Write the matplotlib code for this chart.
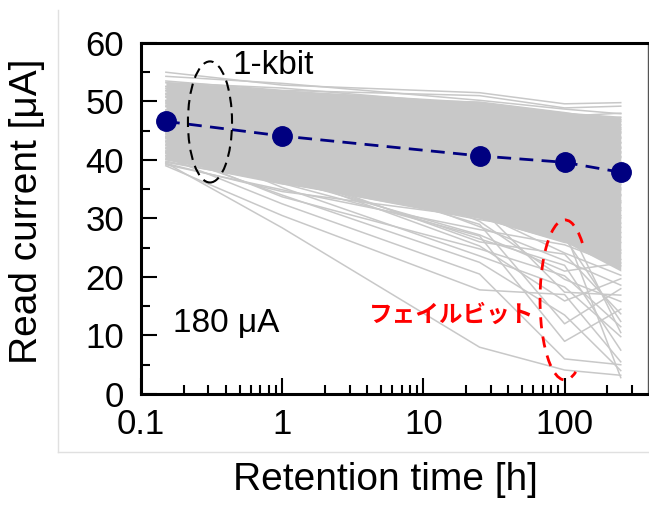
import numpy as np
import matplotlib
matplotlib.use('Agg')
import matplotlib.pyplot as plt
from matplotlib.patches import Ellipse, Arc
from matplotlib.lines import Line2D
from matplotlib.ticker import MultipleLocator, LogLocator, NullFormatter

plt.rcParams['font.family'] = ['Liberation Sans', 'DejaVu Sans']

# retention times where each bit was read [h]
times = [0.15, 1, 25, 100, 250]

# average read current [uA]
avg_current = [46.6, 44.1, 40.7, 39.6, 37.9]

# individual bit read currents [uA], one list per retention time
i_015h = [55.0, 54.3, 53.5, 53.2, 52.6, 52.5, 51.9, 51.8, 51.2, 50.9,
          50.7, 50.2, 49.9, 49.7, 49.2, 49.1, 48.6, 48.5, 48.0, 47.9,
          47.4, 47.1, 47.0, 46.5, 46.4, 45.9, 45.8, 45.3, 45.2, 44.7,
          44.6, 44.1, 43.8, 43.7, 43.2, 43.1, 42.6, 42.5, 42.0, 41.9,
          41.4, 41.3, 40.8, 40.7, 40.2, 40.1, 39.8, 39.6, 39.4, 39.2,
          44.4, 47.3, 42.9, 50.1, 45.6, 48.3, 41.6, 46.7, 52.2, 43.4,
          39.0, 39.5, 40.5, 41.1, 42.2, 44.0, 45.0, 47.6, 49.4, 51.4]
i_1h = [52.8, 53.1, 51.9, 52.3, 50.8, 51.5, 50.2, 50.9, 49.6, 50.3,
        48.7, 49.2, 48.1, 48.8, 47.4, 47.9, 46.8, 47.2, 46.1, 46.6,
        45.5, 46.0, 44.9, 45.4, 44.2, 44.8, 43.6, 44.1, 42.9, 43.5,
        42.3, 42.8, 41.6, 42.1, 40.9, 41.4, 40.2, 40.7, 39.5, 40.0,
        38.7, 39.2, 37.9, 38.3, 37.0, 37.4, 35.9, 36.2, 34.6, 34.9,
        39.8, 41.2, 36.8, 43.7, 38.1, 40.5, 33.7, 37.6, 44.5, 35.3,
        30.5, 28.4, 32.5, 34.0, 36.0, 37.5, 39.0, 42.0, 45.0, 47.0]
i_25h = [51.5, 50.2, 51.0, 49.4, 49.9, 48.3, 48.8, 47.6, 48.1, 46.9,
         47.4, 45.8, 46.6, 45.1, 45.9, 44.3, 44.8, 43.6, 44.0, 42.8,
         43.3, 42.1, 42.6, 41.3, 41.9, 40.6, 41.1, 39.8, 40.4, 39.1,
         39.6, 38.3, 38.9, 37.5, 38.0, 36.7, 37.2, 35.8, 36.3, 34.9,
         35.4, 33.8, 34.3, 32.6, 33.1, 31.3, 31.7, 29.8, 30.2, 28.1,
         30.9, 28.6, 27.2, 29.5, 26.0, 31.9, 24.8, 25.3, 33.4, 23.6,
         17.8, 8.0, 20.5, 22.5, 27.0, 26.5, 29.0, 31.5, 34.5, 36.5]
i_100h = [49.6, 48.7, 48.9, 47.5, 48.1, 47.8, 46.4, 46.9, 45.7, 46.2,
          44.9, 45.3, 44.2, 43.6, 43.1, 43.8, 42.4, 42.9, 41.7, 42.1,
          40.9, 41.3, 40.2, 40.6, 39.4, 39.8, 38.7, 39.0, 37.9, 38.2,
          37.1, 37.4, 36.3, 36.5, 35.4, 35.6, 34.5, 34.6, 33.4, 33.5,
          32.2, 32.3, 30.9, 31.0, 29.5, 29.4, 27.8, 27.6, 25.9, 25.5,
          24.1, 22.8, 21.0, 19.6, 23.9, 17.4, 20.2, 15.9, 26.7, 18.3,
          17.0, 4.1, 6.0, 13.5, 9.0, 22.0, 12.0, 28.0, 30.0, 32.0]
i_250h = [49.8, 47.9, 49.2, 48.0, 46.6, 46.9, 47.3, 45.2, 46.0, 44.8,
          45.5, 43.9, 44.6, 43.0, 43.7, 42.2, 42.9, 41.4, 42.0, 40.6,
          41.2, 39.7, 40.4, 38.8, 39.5, 37.9, 38.6, 37.0, 37.6, 36.1,
          36.7, 35.2, 35.8, 34.1, 34.9, 33.0, 33.9, 31.8, 32.7, 30.5,
          31.4, 29.2, 30.1, 27.6, 28.5, 25.9, 26.8, 24.1, 24.6, 21.9,
          20.3, 18.6, 22.4, 15.8, 13.7, 16.9, 11.5, 19.7, 12.4, 9.8,
          5.5, 3.2, 5.0, 4.0, 14.5, 7.5, 18.0, 2.8, 10.5, 23.0]

# envelope of the densely packed bits
core_hi = [53.4, 52.0, 50.0, 48.2, 47.5]
core_lo = [40.0, 36.0, 30.0, 26.0, 21.0]

xticks = [0.1, 1, 10, 100]
xticklabels = ['0.1', '1', '10', '100']

bits = np.array([i_015h, i_1h, i_25h, i_100h, i_250h])

fig = plt.figure(figsize=(6.49, 5.05), dpi=100)
ax = fig.add_axes([0.2173, 0.2198, 0.7812, 0.6951])

gray = '#c8c8c8'
ax.fill_between(times, core_lo, core_hi, color=gray, lw=0, zorder=1)
ax.plot(times, bits, color=gray, lw=1.1, zorder=2)
ax.plot(times, avg_current, color='#000080', lw=2, dashes=(5, 3),
        marker='o', ms=14, zorder=5)

ax.set_xscale('log')
ax.set_xlim(0.1, 390)
ax.set_ylim(0, 60)
ax.set_xticks(xticks)
ax.set_xticklabels(xticklabels)
ax.xaxis.set_minor_locator(LogLocator(base=10, subs=np.arange(2, 10)))
ax.xaxis.set_minor_formatter(NullFormatter())
ax.yaxis.set_major_locator(MultipleLocator(10))
ax.yaxis.set_minor_locator(MultipleLocator(5))

ax.tick_params(which='both', direction='in', top=False, right=False, width=1.5)
ax.tick_params(which='major', length=11.5, labelsize=25)
ax.tick_params(which='minor', length=6.5)
ax.tick_params(axis='x', pad=10)
ax.tick_params(axis='y', pad=12)

for s in ['left', 'bottom', 'top']:
    ax.spines[s].set_linewidth(2.2)
ax.spines['right'].set_linewidth(1)
ax.spines['right'].set_color('#555555')

ax.set_ylabel('Read current [\u03bcA]', fontsize=28, va='center')
ax.yaxis.set_label_coords(-0.225, 0.52)
ax.set_xlabel('Retention time [h]', fontsize=28, va='center')
ax.xaxis.set_label_coords(0.483, -0.245)

ax.text(0.448, 56.2, '1-kbit', fontsize=24, ha='left', va='center')
ax.text(0.1685, 12.1, '180 \u03bcA', fontsize=24, ha='left', va='center')
ax.text(4.1, 13.5, 'フェイルビット', fontsize=17, color='#ff0000',
        fontweight='bold', family=['Noto Sans CJK JP', 'DejaVu Sans'],
        ha='left', va='center')

ax.add_patch(Ellipse((0.136, 0.775), 0.087, 0.345, transform=ax.transAxes,
                     fill=False, ec='black', lw=1.5, ls=(0, (5, 3)), zorder=6))
# open on the right-hand side
ax.add_patch(Arc((0.836, 0.268), 0.098, 0.456, transform=ax.transAxes,
                 theta1=78, theta2=276, ec='#ff0000', lw=2, ls=(0, (4, 3)),
                 zorder=6))

# faint frame of the original slide
fig.add_artist(Line2D([58 / 649, 58 / 649], [1 - 10 / 505, 1 - 452 / 505],
                      transform=fig.transFigure, color='#e0e0e0', lw=1))
fig.add_artist(Line2D([58 / 649, 1], [1 - 452 / 505, 1 - 452 / 505],
                      transform=fig.transFigure, color='#e0e0e0', lw=1))

fig.savefig('out.png', dpi=100)
